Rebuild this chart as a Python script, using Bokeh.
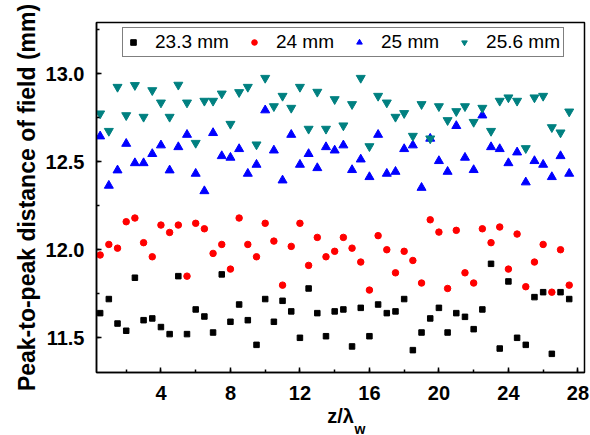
from bokeh.plotting import figure
from bokeh.models import Range1d, SingleIntervalTicker, Title, NumeralTickFormatter
from bokeh.embed import file_html
from bokeh.resources import INLINE

z = [0.5, 1.0, 1.5, 2.0, 2.5, 3.0, 3.5, 4.0, 4.5, 5.0, 5.5, 6.0, 6.5, 7.0, 7.5,
     8.0, 8.5, 9.0, 9.5, 10.0, 10.5, 11.0, 11.5, 12.0, 12.5, 13.0, 13.5, 14.0,
     14.5, 15.0, 15.5, 16.0, 16.5, 17.0, 17.5, 18.0, 18.5, 19.0, 19.5, 20.0,
     20.5, 21.0, 21.5, 22.0, 22.5, 23.0, 23.5, 24.0, 24.5, 25.0, 25.5, 26.0,
     26.5, 27.0, 27.5]

d233 = [11.640, 11.720, 11.581, 11.540, 11.841, 11.600, 11.610, 11.561, 11.521,
        11.850, 11.521, 11.661, 11.621, 11.530, 11.860, 11.591, 11.689, 11.600,
        11.460, 11.720, 11.591, 11.710, 11.650, 11.500, 11.780, 11.640, 11.509,
        11.650, 11.661, 11.451, 11.670, 11.509, 11.689, 11.640, 11.650, 11.720,
        11.430, 11.530, 11.610, 11.670, 11.530, 11.640, 11.619, 11.549, 11.661,
        11.920, 11.439, 11.820, 11.500, 11.460, 11.731, 11.759, 11.409, 11.759,
        11.720]

d24 = [11.970, 12.030, 12.009, 12.159, 12.180, 12.040, 11.960, 12.140, 12.098,
       12.140, 11.850, 12.150, 12.119, 11.979, 12.030, 11.890, 12.180, 12.030,
       11.960, 12.150, 12.049, 11.799, 12.019, 12.150, 11.911, 12.070, 11.960,
       11.991, 12.070, 12.009, 11.930, 11.771, 12.080, 12.000, 11.869, 11.991,
       11.939, 11.811, 12.170, 12.100, 11.780, 12.110, 11.869, 11.811, 12.119,
       12.040, 12.129, 11.890, 12.089, 11.790, 11.930, 12.030, 11.759, 12.000,
       11.799]

d25 = [12.644, 12.364, 12.451, 12.602, 12.492, 12.492, 12.544, 12.593, 12.451,
       12.583, 12.653, 12.432, 12.333, 12.663, 12.532, 12.523, 12.572, 12.432,
       12.483, 12.792, 12.564, 12.394, 12.653, 12.483, 12.544, 12.464, 12.583,
       12.564, 12.593, 12.453, 12.513, 12.413, 12.653, 12.432, 12.443, 12.572,
       12.593, 12.352, 12.631, 12.504, 12.443, 12.703, 12.523, 12.453, 12.763,
       12.583, 12.572, 12.492, 12.553, 12.383, 12.504, 12.483, 12.413, 12.532,
       12.432]

d256 = [12.773, 12.674, 12.924, 12.763, 12.934, 12.754, 12.905, 12.835, 12.754,
        12.936, 12.835, 12.606, 12.845, 12.845, 12.886, 12.714, 12.894, 12.924,
        12.597, 12.975, 12.814, 12.873, 12.805, 12.924, 12.686, 12.896, 12.686,
        12.854, 12.705, 12.826, 12.975, 12.587, 12.873, 12.835, 12.754, 12.775,
        12.646, 12.826, 12.631, 12.814, 12.735, 12.786, 12.814, 12.725, 12.805,
        12.674, 12.845, 12.864, 12.845, 12.576, 12.864, 12.873, 12.695, 12.665,
        12.784]

series_labels = ["23.3 mm", "24 mm", "25 mm", "25.6 mm"]

FONT = "Liberation Sans"

p = figure(width=590, height=435, output_backend="svg", toolbar_location=None,
           x_range=Range1d(0.29, 28.38), y_range=Range1d(11.303, 13.29),
           min_border_left=96, min_border_right=6, min_border_top=22,
           min_border_bottom=63, background_fill_color="white",
           border_fill_color="white")

p.scatter(z, d233, marker="square", size=5.5, color="#000000", legend_label=series_labels[0])
p.scatter(z, d24, marker="circle", size=6.5, color="#FF0000", legend_label=series_labels[1])
p.scatter(z, d25, marker="triangle", size=9, color="#0000FF", legend_label=series_labels[2])
p.scatter(z, d256, marker="inverted_triangle", size=9, color="#008080", legend_label=series_labels[3])

p.xgrid.grid_line_color = None
p.ygrid.grid_line_color = None
p.outline_line_color = "black"
p.outline_line_width = 1.5

p.xaxis.ticker = SingleIntervalTicker(interval=4, num_minor_ticks=2)
p.yaxis.ticker = SingleIntervalTicker(interval=0.5, num_minor_ticks=2)
p.yaxis.formatter = NumeralTickFormatter(format="0.0")

for ax in (p.xaxis[0], p.yaxis[0]):
    ax.axis_line_color = "black"
    ax.axis_line_width = 1.5
    ax.major_tick_in = 5
    ax.major_tick_out = 0
    ax.minor_tick_in = 3
    ax.minor_tick_out = 0
    ax.major_tick_line_width = 1.5
    ax.minor_tick_line_width = 1.5
    ax.major_label_text_font = FONT
    ax.major_label_text_font_style = "bold"
    ax.major_label_text_font_size = "20px"
    ax.major_label_text_color = "black"

p.xaxis.major_label_standoff = 13
p.yaxis.major_label_standoff = 12

p.yaxis.axis_label = "Peak-to-peak distance of field (mm)"
p.yaxis.axis_label_text_font = FONT
p.yaxis.axis_label_text_font_style = "bold"
p.yaxis.axis_label_text_font_size = "23px"
p.yaxis.axis_label_text_color = "black"
p.yaxis.axis_label_standoff = 3

p.xaxis.axis_label = "z/λ"
p.xaxis.axis_label_text_font = FONT
p.xaxis.axis_label_text_font_style = "bold"
p.xaxis.axis_label_text_font_size = "20px"
p.xaxis.axis_label_text_color = "black"
p.xaxis.axis_label_standoff = 2

sub = Title(text="w", align="left", vertical_align="top", offset=258,
            standoff=-18, text_font=FONT, text_font_style="bold",
            text_font_size="14px", text_color="black")
p.add_layout(sub, "below")

lg = p.legend[0]
lg.orientation = "horizontal"
lg.location = (26, 315)
lg.label_text_font = FONT
lg.label_text_font_size = "19px"
lg.label_text_color = "black"
lg.glyph_width = 14
lg.glyph_height = 14
lg.label_height = 14
lg.label_standoff = 15
lg.spacing = 18
lg.padding = 3
lg.margin = 0
lg.border_line_color = "black"
lg.border_line_width = 1.2
lg.background_fill_color = "white"
lg.background_fill_alpha = 1.0

open("out.html", "w").write(file_html(p, INLINE))
